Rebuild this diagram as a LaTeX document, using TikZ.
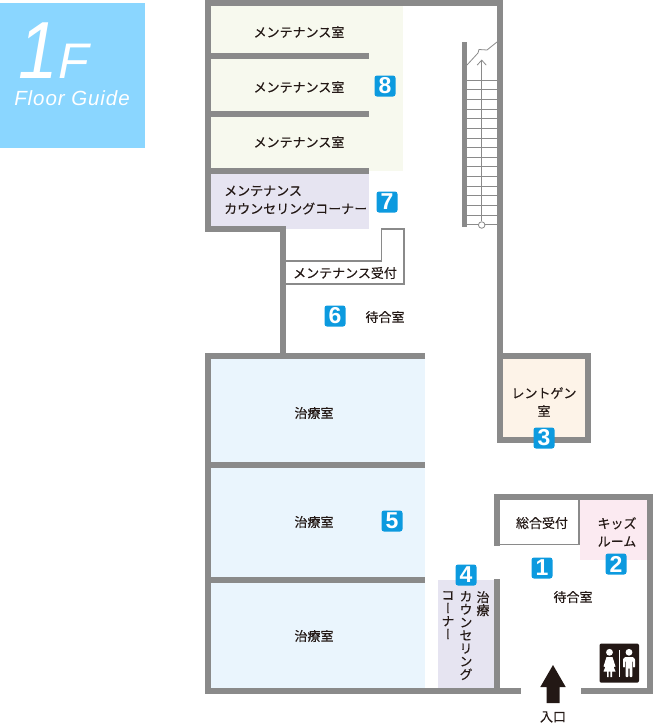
\documentclass[tikz,border=0pt]{standalone}
\usepackage{fontspec}
\setmainfont[FakeBold=0.25]{Noto Sans CJK JP}
\newfontfamily\vertjp[RawFeature=+vert,FakeBold=0.25]{Noto Sans CJK JP}
\newfontfamily\guidefont{Liberation Sans}
\newfontfamily\guidewide[LetterSpace=4.5]{Liberation Sans}
\usetikzlibrary{positioning,arrows.meta}
\definecolor{wallgray}{HTML}{8A8A8A}
\definecolor{headblue}{HTML}{8AD6FF}
\definecolor{badgeblue}{HTML}{0C9ADF}
\definecolor{roomcream}{HTML}{F7F9EE}
\definecolor{roompurple}{HTML}{E6E4F1}
\definecolor{roomblue}{HTML}{EAF5FD}
\definecolor{roompink}{HTML}{FBEAF1}
\definecolor{roomxray}{HTML}{FDF3E8}
\definecolor{inkblack}{HTML}{231815}
\tikzset{
  wall/.style={draw=wallgray,line width=6pt},
  thinwall/.style={draw=wallgray,line width=1.8pt},
  stairline/.style={draw=wallgray,line width=0.8pt},
  roomlabel/.style={font=\fontsize{13}{18}\selectfont,text=inkblack,align=center,inner sep=0pt},
  vertlabel/.style={font=\vertjp\fontsize{13}{13}\selectfont,text=inkblack,align=center,inner sep=0pt,anchor=north},
  badge/.style={fill=badgeblue,rounded corners=2.5pt,minimum size=21pt,inner sep=0pt,text=white,
    font=\guidefont\bfseries\fontsize{23}{23}\selectfont},
}
\begin{document}
\begin{tikzpicture}[x=1pt,y=-1pt]
\useasboundingbox (0,0) rectangle (653,724);
% header
\fill[headblue] (0,3) rectangle (145,148);
\node[text=white,inner sep=0pt,anchor=base west,xscale=.88,transform shape,font=\guidefont\itshape\fontsize{81}{81}\selectfont] (floor_num) at (18,78) {1};
\node[text=white,inner sep=0pt,anchor=base west,font=\guidefont\itshape\fontsize{50}{50}\selectfont] (floor_f) at (58,78) {F};
\node[text=white,inner sep=0pt,anchor=base,font=\guidewide\itshape\fontsize{20.5}{20.5}\selectfont] (floor_guide) at (72,105) {Floor Guide};
% room fills
\fill[roomcream] (211,6) rectangle (403,171);
\fill[roompurple] (211,171) rectangle (369,229);
\fill[roomblue] (211,356) rectangle (425,691);
\fill[roompurple] (438,580) rectangle (497,691);
\fill[roompink] (580,499) rectangle (647,560);
\fill[roomxray] (503,356) rectangle (585,440);
% walls
\draw[wall] (283,356) -- (283,229) -- (208,229) -- (208,3) -- (500,3) -- (500,356);
\draw[wall] (211,56.3) -- (369,56.3);
\draw[wall] (211,113.7) -- (369,113.7);
\draw[wall] (211,171) -- (369,171);
\draw[wall] (425,356) -- (208,356) -- (208,691) -- (521,691);
\draw[wall] (211,464.5) -- (425,464.5);
\draw[wall] (211,580.3) -- (425,580.3);
\draw[wall] (497,579) -- (497,691);
\draw[wall] (581,691) -- (650,691) -- (650,497) -- (497,497) -- (497,546);
\draw[wall] (500,356) -- (587.5,356) -- (587.5,440) -- (500,440) -- cycle;
\draw[wall,line width=5pt] (464.5,42) -- (464.5,227);
% counters
\draw[thinwall] (286,261) -- (381.5,261) -- (381.5,229) -- (404,229) -- (404,284) -- (286,284);
\draw[thinwall] (497,544.5) -- (580,544.5);
\draw[thinwall] (579,499) -- (579,544.5);
% stairs
\foreach \i in {0,...,15} {
  \draw[stairline] (467,{80+\i*9.65}) -- (497,{80+\i*9.65});
}
\draw[stairline] (467,65) -- (478,53) -- (479,49.5) -- (487,50) -- (497,42);
\node[draw=wallgray,line width=0.8pt,fill=white,circle,minimum size=6.5pt,inner sep=0pt] (stair_start) at (481.7,225) {};
\coordinate (stair_end) at (481.7,59.5);
\draw[stairline,-{Straight Barb[length=5pt,width=9pt]}] (stair_start) -- (stair_end);
% labels
\node[roomlabel] (maint_a) at (299,32) {メンテナンス室};
\node[roomlabel] (maint_b) at (299,87) {メンテナンス室};
\node[roomlabel] (maint_c) at (299,142) {メンテナンス室};
\node[roomlabel,align=left,anchor=west] (maint_counsel) at (224,200) {メンテナンス\\カウンセリングコーナー};
\node[roomlabel] (maint_desk) at (345,273) {メンテナンス受付};
\node[roomlabel] (wait_b) at (385,317) {待合室};
\node[roomlabel] (care_a) at (314,413) {治療室};
\node[roomlabel] (care_b) at (314,522) {治療室};
\node[roomlabel] (care_c) at (314,636) {治療室};
\node[roomlabel] (xray) at (544,402) {レントゲン\\室};
\node[roomlabel] (desk) at (542,523) {総合受付};
\node[roomlabel] (kids) at (617,532) {キッズ\\ルーム};
\node[roomlabel] (wait_a) at (573,597) {待合室};
\node[roomlabel] (entry) at (553,717) {入口};
\node[vertlabel] (care_v) at (483,591) {治\\療};
\node[vertlabel] (counsel_v) at (466,591) {カ\\ウ\\ン\\セ\\リ\\ン\\グ};
\node[vertlabel] (corner_v) at (448,591) {コ\\ー\\ナ\\ー};
% number badges
\node[badge] (num_a) at (542,568) {1};
\node[badge] (num_b) at (616,564) {2};
\node[badge] (num_c) at (544,438) {3};
\node[badge] (num_d) at (466,575) {4};
\node[badge] (num_e) at (392,521) {5};
\node[badge] (num_f) at (335,316) {6};
\node[badge] (num_g) at (387,202) {7};
\node[badge] (num_h) at (385,86) {8};
% entrance arrow
\fill[inkblack] (553,665) -- (565.7,687) -- (559.5,687) -- (559.5,703) -- (546.5,703) -- (546.5,687) -- (540.3,687) -- cycle;
% toilet sign
\fill[inkblack,rounded corners=2pt] (599.5,643.5) rectangle (639,682.7);
\draw[white,line width=1.3pt] (619.7,650) -- (619.7,677);
\fill[white] (609.5,652.3) circle (3.4);
\fill[white] (606.5,657) -- (612.5,657) -- (615.5,666.5) -- (613.5,667) -- (611.8,662) -- (615.5,671.5) -- (612,671.5) -- (612,677) -- (610.4,677) -- (610.4,671.5) -- (608.6,671.5) -- (608.6,677) -- (607,677) -- (607,671.5) -- (603.5,671.5) -- (607.2,662) -- (605.5,667) -- (603.5,666.5) -- cycle;
\fill[white] (629,652.3) circle (3.4);
\fill[white,rounded corners=0.8pt] (625,657) -- (633,657) -- (635,659) -- (635,667.5) -- (633.2,667.5) -- (633.2,661) -- (632.4,661) -- (632.4,677) -- (629.7,677) -- (629.7,668) -- (628.3,668) -- (628.3,677) -- (625.6,677) -- (625.6,661) -- (624.8,661) -- (624.8,667.5) -- (623,667.5) -- (623,659) -- cycle;
\end{tikzpicture}
\end{document}
